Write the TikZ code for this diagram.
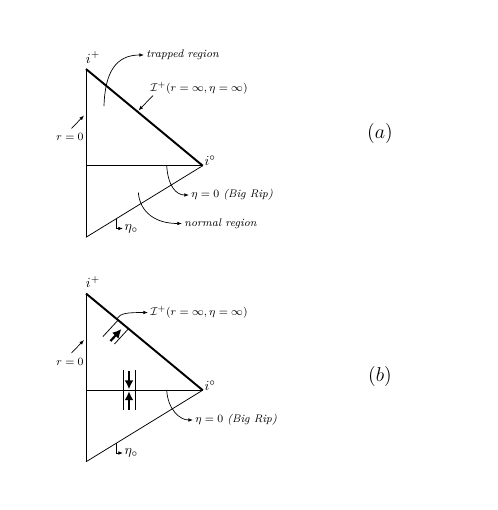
\documentclass[tikz,border=0pt]{standalone}
\usetikzlibrary{arrows.meta}
\begin{document}
\begin{tikzpicture}[x=0.72pt,y=-0.72pt,
  thickline/.style={line width=1.4pt},
  medline/.style={line width=1pt},
  thinline/.style={line width=0.55pt},
  pointer/.style={line width=0.5pt,-{Latex[length=3.4pt,width=2.6pt]}},
  bigarrow/.style={line width=1.6pt,-{Latex[length=6.5pt,width=6.5pt]}},
  lbl/.style={font=\footnotesize,inner sep=1.5pt,anchor=west},
  vlbl/.style={inner sep=1pt},
  caplbl/.style={font=\Large,inner sep=0pt}]
\useasboundingbox (0,0) rectangle (498,510);
% ---------------- (a) ----------------
\coordinate (aT) at (86,69);
\coordinate (aR) at (202.7,165.7);
\coordinate (aB) at (86,237.3);
\coordinate (aM) at (86,165.7);
\draw[thinline] (aT) -- (aB);
\draw[thickline] (aT) -- (aR);
\draw[thinline] (aB) -- (aR);
\draw[medline] (aM) -- (aR);
\node[vlbl] (aip) at (93,57.5) {$i^+$};
\node[vlbl,anchor=west] (ai0) at (203,161) {$i^\circ$};
\node[lbl] (atr) at (144,55) {\textit{trapped region}};
\coordinate (atrs) at (104,106);
\draw[pointer] (atrs) .. controls (105,72) and (116,55) .. (atr.west);
\node[lbl] (aI) at (148,88) {$\mathcal{I}^+(r=\infty,\eta=\infty)$};
\coordinate (aIs) at (153,95.5);
\coordinate (aIt) at (138.5,110.5);
\draw[pointer] (aIs) -- (aIt);
\node[font=\footnotesize,inner sep=1pt] (ar) at (70,137) {$r=0$};
\coordinate (ars) at (71.5,128.5);
\coordinate (art) at (84,115.5);
\draw[pointer] (ars) -- (art);
\node[lbl] (aeta) at (189,195) {$\eta=0$ \textit{(Big Rip)}};
\coordinate (aetas) at (166.7,165.7);
\draw[pointer] (aetas) .. controls (168,186) and (176,195) .. (aeta.west);
\node[lbl] (anr) at (182,223.5) {\textit{normal region}};
\coordinate (anrs) at (138.3,192.5);
\draw[pointer] (anrs) .. controls (140,212) and (155,223.5) .. (anr.west);
\coordinate (aes) at (116,218.9);
\node[vlbl,anchor=west] (aeo) at (123,228.5) {$\eta_\circ$};
\draw[pointer] (aes) |- (aeo.west);
\node[caplbl] (la) at (380,133) {$(a)$};
% ---------------- (b) ----------------
\coordinate (bT) at (86,293.5);
\coordinate (bR) at (202.7,390.2);
\coordinate (bB) at (86,461.8);
\coordinate (bM) at (86,390.2);
\draw[thinline] (bT) -- (bB);
\draw[thickline] (bT) -- (bR);
\draw[thinline] (bB) -- (bR);
\draw[medline] (bM) -- (bR);
\node[vlbl] (bip) at (93,282) {$i^+$};
\node[vlbl,anchor=west] (bi0) at (203,385.5) {$i^\circ$};
\node[lbl] (bI) at (148,312.5) {$\mathcal{I}^+(r=\infty,\eta=\infty)$};
\coordinate (bIs) at (116.7,318.9);
\draw[pointer] (bIs) .. controls (120,313) and (128,312.5) .. (bI.west);
\node[font=\footnotesize,inner sep=1pt] (br) at (70,361.5) {$r=0$};
\coordinate (brs) at (71.5,353);
\coordinate (brt) at (84,340);
\draw[pointer] (brs) -- (brt);
\node[lbl] (beta) at (193,420) {$\eta=0$ \textit{(Big Rip)}};
\coordinate (betas) at (166.7,390.2);
\draw[pointer] (betas) .. controls (168,410) and (180,420) .. (beta.west);
\coordinate (bes) at (116,443.4);
\node[vlbl,anchor=west] (beo) at (123,453) {$\eta_\circ$};
\draw[pointer] (bes) |- (beo.west);
% trapped-surface arrows
\coordinate (bl1a) at (103,336.5);
\coordinate (bl1b) at (118,320.2);
\coordinate (bl2a) at (114.5,344);
\coordinate (bl2b) at (128.5,328.7);
\draw[thinline] (bl1a) -- (bl1b);
\draw[thinline] (bl2a) -- (bl2b);
\coordinate (bda) at (110.5,341);
\coordinate (bdb) at (121.5,329);
\draw[bigarrow] (bda) -- (bdb);
\coordinate (bv1a) at (123,370);
\coordinate (bv1b) at (123,410);
\coordinate (bv2a) at (135,370);
\coordinate (bv2b) at (135,410);
\draw[thinline] (bv1a) -- (bv1b);
\draw[thinline] (bv2a) -- (bv2b);
\coordinate (bua) at (129,371);
\coordinate (bub) at (129,389.3);
\coordinate (bda2) at (129,409.5);
\coordinate (bdb2) at (129,391.2);
\draw[bigarrow] (bua) -- (bub);
\draw[bigarrow] (bda2) -- (bdb2);
\node[caplbl] (lb) at (380,376) {$(b)$};
\end{tikzpicture}
\end{document}
